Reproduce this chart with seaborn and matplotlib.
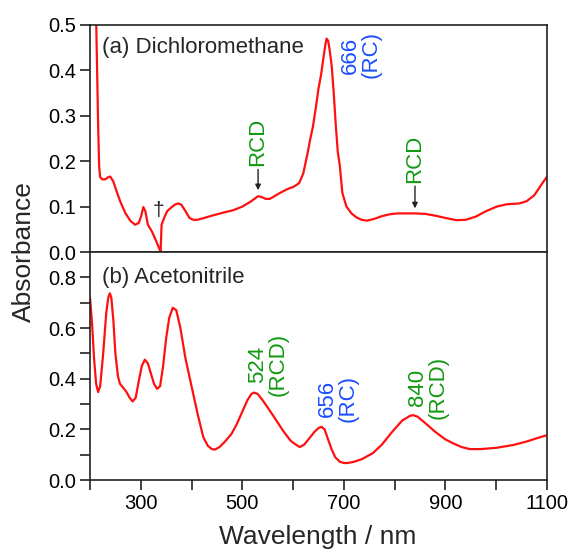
import numpy as np
import pandas as pd
import matplotlib
matplotlib.use("Agg")
import matplotlib.pyplot as plt
import seaborn as sns

# Dichloromethane spectrum (nm, absorbance)
dcm_nm = [212, 214, 216, 218, 220, 224, 230, 236, 240, 246, 252, 260, 270, 280, 289, 296, 301, 305, 309,
          314, 322, 330, 338, 339, 341, 346, 352, 360, 368, 374, 380, 388, 396, 403, 412, 425, 440,
          460, 482, 500, 515, 525, 531, 538, 546, 554, 562, 574, 586, 594, 600, 607, 612, 620, 628,
          634, 639, 645, 650, 655, 660, 664, 666, 669, 672, 676, 680, 684, 688, 692, 697, 705, 715,
          725, 735, 745, 760, 775, 790, 805, 820, 840, 860, 880, 900, 922, 940, 960, 980, 1001,
          1020, 1046, 1060, 1075, 1090, 1100]
dcm_abs = [0.52, 0.40, 0.28, 0.19, 0.165, 0.16, 0.16, 0.165, 0.166, 0.155, 0.135, 0.11, 0.085, 0.068,
           0.060, 0.064, 0.080, 0.099, 0.090, 0.060, 0.045, 0.025, 0.003, 0.0, 0.06, 0.075, 0.09,
           0.098, 0.105, 0.107, 0.104, 0.090, 0.075, 0.071, 0.071, 0.075, 0.080, 0.086, 0.092,
           0.100, 0.110, 0.118, 0.123, 0.121, 0.117, 0.117, 0.122, 0.130, 0.137, 0.141, 0.143,
           0.148, 0.152, 0.173, 0.215, 0.25, 0.276, 0.32, 0.36, 0.39, 0.43, 0.46, 0.47, 0.465,
           0.445, 0.41, 0.35, 0.28, 0.22, 0.19, 0.13, 0.100, 0.085, 0.076, 0.071, 0.069, 0.073,
           0.079, 0.083, 0.085, 0.085, 0.085, 0.084, 0.080, 0.075, 0.070, 0.071, 0.078, 0.090,
           0.100, 0.105, 0.107, 0.112, 0.125, 0.150, 0.166]

# Acetonitrile spectrum (nm, absorbance)
acn_nm = [200, 204, 208, 212, 216, 220, 226, 232, 236, 239, 242, 246, 250, 255, 259, 265, 272, 278,
          284, 290, 296, 302, 308, 314, 320, 326, 332, 338, 344, 350, 356, 363, 370, 378, 388, 400,
          412, 423, 432, 440, 446, 455, 465, 478, 489, 500, 510, 518, 523, 530, 540, 552, 567, 580,
          595, 605, 613, 622, 632, 642, 650, 656, 662, 668, 676, 683, 692, 700, 708, 720, 735, 757,
          775, 795, 815, 830, 836, 845, 860, 880, 900, 915, 932, 948, 970, 1000, 1033, 1060, 1080, 1100]
acn_abs = [0.72, 0.62, 0.48, 0.38, 0.347, 0.37, 0.50, 0.66, 0.72, 0.737, 0.72, 0.63, 0.50, 0.41,
           0.38, 0.365, 0.347, 0.325, 0.31, 0.325, 0.39, 0.45, 0.475, 0.46, 0.42, 0.38, 0.36, 0.37,
           0.45, 0.56, 0.64, 0.68, 0.67, 0.60, 0.48, 0.37, 0.26, 0.17, 0.135, 0.122, 0.12, 0.13,
           0.15, 0.18, 0.22, 0.27, 0.315, 0.34, 0.345, 0.34, 0.315, 0.28, 0.235, 0.195, 0.155,
           0.14, 0.13, 0.14, 0.165, 0.19, 0.205, 0.21, 0.2, 0.165, 0.12, 0.09, 0.072, 0.067, 0.067,
           0.072, 0.082, 0.106, 0.14, 0.19, 0.235, 0.253, 0.256, 0.25, 0.225, 0.19, 0.16, 0.145,
           0.13, 0.122, 0.122, 0.127, 0.138, 0.152, 0.165, 0.177]

sns.set_style("ticks")
plt.rcParams['font.family'] = ['Liberation Sans', 'DejaVu Sans']
plt.rcParams['axes.linewidth'] = 1.2

dcm = pd.DataFrame({"nm": dcm_nm, "A": dcm_abs})
acn = pd.DataFrame({"nm": acn_nm, "A": acn_abs})

fig = plt.figure(figsize=(5.73, 5.5), dpi=100)
L, R = 90 / 573, 547 / 573
ax1 = fig.add_axes([L, 1 - 252 / 550, R - L, (252 - 25) / 550])
ax2 = fig.add_axes([L, 1 - 480 / 550, R - L, (480 - 252) / 550])

red = "#ff1010"
green = "#119911"
blue = "#1a4dff"
FS = 16

sns.lineplot(data=dcm, x="nm", y="A", ax=ax1, color=red, lw=1.6, sort=False)
sns.lineplot(data=acn, x="nm", y="A", ax=ax2, color=red, lw=1.6, sort=False)

for ax in (ax1, ax2):
    ax.set_xlim(200, 1100)
    ax.set_xlabel("")
    ax.set_ylabel("")
    for s in ax.spines.values():
        s.set_visible(True)
        s.set_linewidth(1.2)
        s.set_color("#222222")
    ax.tick_params(axis="both", labelsize=14.5, colors="#222222", labelcolor="black",
                   length=7, width=1.2, direction="out", pad=3)

ax1.set_ylim(0, 0.5)
ax1.set_yticks(np.arange(0, 0.51, 0.1))
ax1.set_yticklabels(["0.0", "0.1", "0.2", "0.3", "0.4", "0.5"])
ax1.set_xticks([])

ax2.set_ylim(0, 0.9)
ax2.set_yticks(np.arange(0, 0.81, 0.1))
ax2.set_yticklabels(["0.0", "", "0.2", "", "0.4", "", "0.6", "", "0.8"])
ax2.set_xticks(np.arange(200, 1101, 100))
ax2.set_xticklabels(["", "300", "", "500", "", "700", "", "900", "", "1100"])

fig.text(318 / 573, 1 - 544 / 550, "Wavelength / nm", fontsize=19, ha="center", va="baseline")
fig.text(24 / 573, 1 - 252 / 550, "Absorbance", rotation=90, fontsize=19,
         ha="center", va="center")

ax1.text(0.026, 0.903, "(a) Dichloromethane", transform=ax1.transAxes, fontsize=FS,
         ha="left", va="center")
ax2.text(0.026, 0.886, "(b) Acetonitrile", transform=ax2.transAxes, fontsize=FS,
         ha="left", va="center")

# top annotations
ax1.text(733, 0.434, "666\n(RC)", rotation=90, color=blue, fontsize=FS,
         ha="center", va="center", multialignment="center", linespacing=1.0)
ax1.annotate("", xy=(531, 0.130), xytext=(531, 0.188),
             arrowprops=dict(arrowstyle="-|>", color="#222222", lw=1.0, mutation_scale=8))
ax1.text(531, 0.190, "RCD", rotation=90, color=green, fontsize=FS, ha="center", va="bottom")
ax1.annotate("", xy=(840, 0.090), xytext=(840, 0.151),
             arrowprops=dict(arrowstyle="-|>", color="#222222", lw=1.0, mutation_scale=8))
ax1.text(840, 0.153, "RCD", rotation=90, color=green, fontsize=FS, ha="center", va="bottom")
ax1.text(334, 0.092, "†", fontsize=15, ha="center", va="center")

# bottom annotations
ax2.text(550, 0.457, "524\n(RCD)", rotation=90, color=green, fontsize=FS,
         ha="center", va="center", multialignment="center", linespacing=1.0)
ax2.text(688, 0.323, "656\n(RC)", rotation=90, color=blue, fontsize=FS,
         ha="center", va="center", multialignment="center", linespacing=1.0)
ax2.text(865, 0.366, "840\n(RCD)", rotation=90, color=green, fontsize=FS,
         ha="center", va="center", multialignment="center", linespacing=1.0)

fig.savefig("out.png", dpi=100)
